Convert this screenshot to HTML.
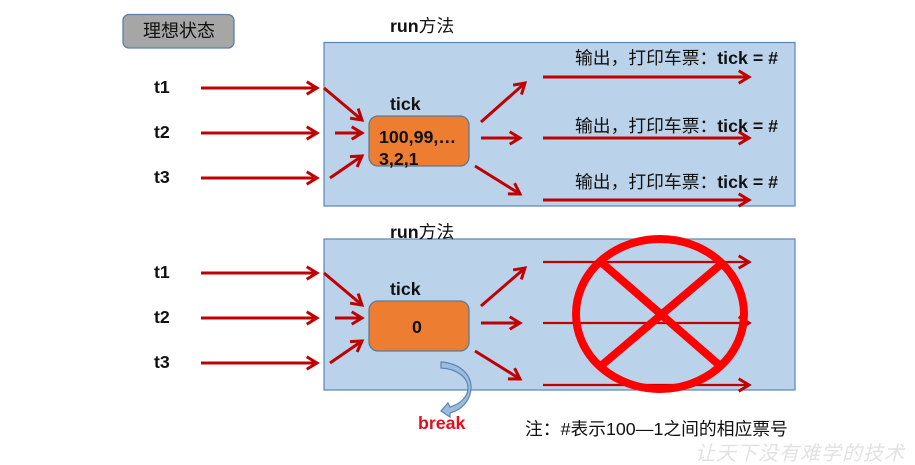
<!DOCTYPE html>
<html><head><meta charset="utf-8">
<style>
html,body{margin:0;padding:0;background:#fff;width:915px;height:465px;overflow:hidden}
svg{display:block}
text{font-family:"Liberation Sans","Noto Sans CJK SC",sans-serif;fill:#111}
.b{font-weight:700;font-size:17.800px}
.a{stroke:#c00000;fill:none;stroke-width:3}
.t{stroke:#c00000;fill:none;stroke-width:2.200}
</style></head><body>
<svg width="915" height="465" viewBox="0 0 915 465" xmlns="http://www.w3.org/2000/svg">
<defs>
<marker id="h" markerUnits="userSpaceOnUse" markerWidth="16" markerHeight="16" refX="11" refY="7" orient="auto" viewBox="0 0 14 14"><path d="M2 1.500 L11 7 L2 12.500" fill="none" stroke="#c00000" stroke-width="2.600"/></marker>
</defs>
<rect x="123" y="14.500" width="111" height="33.500" rx="6" fill="#a6a6a6" stroke="#5b7fa6" stroke-width="1.300"/>
<text x="143" y="37" font-size="18">理想状态</text>

<rect x="324" y="42.500" width="471" height="163.500" fill="#bad3eb" stroke="#5b85b5" stroke-width="1.200"/>
<rect x="324" y="239" width="471" height="151" fill="#bad3eb" stroke="#5b85b5" stroke-width="1.200"/>

<text x="390" y="32" class="b">run<tspan font-weight="400">方法</tspan></text>
<text x="390" y="238" class="b">run<tspan font-weight="400">方法</tspan></text>

<text x="154" y="93" class="b">t1</text><text x="154" y="138" class="b">t2</text><text x="154" y="183" class="b">t3</text>
<text x="154" y="278" class="b">t1</text><text x="154" y="323" class="b">t2</text><text x="154" y="368" class="b">t3</text>

<g class="a">
<path d="M201 88H317" marker-end="url(#h)"/><path d="M201 133H317" marker-end="url(#h)"/><path d="M201 178H317" marker-end="url(#h)"/>
<path d="M201 273H317" marker-end="url(#h)"/><path d="M201 318H317" marker-end="url(#h)"/><path d="M201 363H317" marker-end="url(#h)"/>
<path d="M324 88L362 120" marker-end="url(#h)"/><path d="M335 133H362" marker-end="url(#h)"/><path d="M330 178L362 156" marker-end="url(#h)"/>
<path d="M324 273L362 305" marker-end="url(#h)"/><path d="M335 318H362" marker-end="url(#h)"/><path d="M330 363L362 341" marker-end="url(#h)"/>
<path d="M481 122L525 83" marker-end="url(#h)"/><path d="M481 138H520" marker-end="url(#h)"/><path d="M475 166L520 194" marker-end="url(#h)"/>
<path d="M481 306L525 268" marker-end="url(#h)"/><path d="M481 323H520" marker-end="url(#h)"/><path d="M475 351L520 379" marker-end="url(#h)"/>
<path d="M543 77H749" marker-end="url(#h)"/><path d="M543 138H749" marker-end="url(#h)"/><path d="M543 200H749" marker-end="url(#h)"/>
</g>
<g class="t">
<path d="M543 262H749" marker-end="url(#h)"/><path d="M543 323H749" marker-end="url(#h)"/><path d="M543 385H749" marker-end="url(#h)"/>
</g>

<text x="390" y="110" class="b">tick</text>
<text x="390" y="295" class="b">tick</text>
<rect x="369" y="116" width="100" height="50" rx="9" fill="#ed7d31" stroke="#5f7a94" stroke-width="1.300"/>
<rect x="369" y="301" width="100" height="50" rx="9" fill="#ed7d31" stroke="#5f7a94" stroke-width="1.300"/>
<text x="379" y="143" class="b">100,99,…</text>
<text x="379" y="165" class="b">3,2,1</text>
<text x="412" y="333" class="b">0</text>

<text x="575" y="64" font-size="17.800">输出，打印车票：<tspan class="b">tick = #</tspan></text>
<text x="575" y="132" font-size="17.800">输出，打印车票：<tspan class="b">tick = #</tspan></text>
<text x="575" y="188" font-size="17.800">输出，打印车票：<tspan class="b">tick = #</tspan></text>

<ellipse cx="660" cy="314" rx="84" ry="75" fill="none" stroke="#fe0000" stroke-width="8"/>
<path d="M602 263L718 364M720 265L602 365" stroke="#fe0000" stroke-width="8" fill="none"/>

<path d="M441 362C458 363 471 373 471 387C471 400 462 410 450 413L450 417L441 411L448 403L450 407C460 404 468 397 468 388C468 378 458 369 441 368Z" fill="#9dbcdc" stroke="#5b85b5" stroke-width="1.200"/>
<text x="418" y="429" style="fill:#e0101e" class="b">break</text>

<text x="525" y="435" font-size="17.800">注：#表示100—1之间的相应票号</text>
<text x="695" y="460" font-size="20" font-style="italic" style="fill:#e2e2e2" letter-spacing="1">让天下没有难学的技术</text>
</svg>
</body></html>
